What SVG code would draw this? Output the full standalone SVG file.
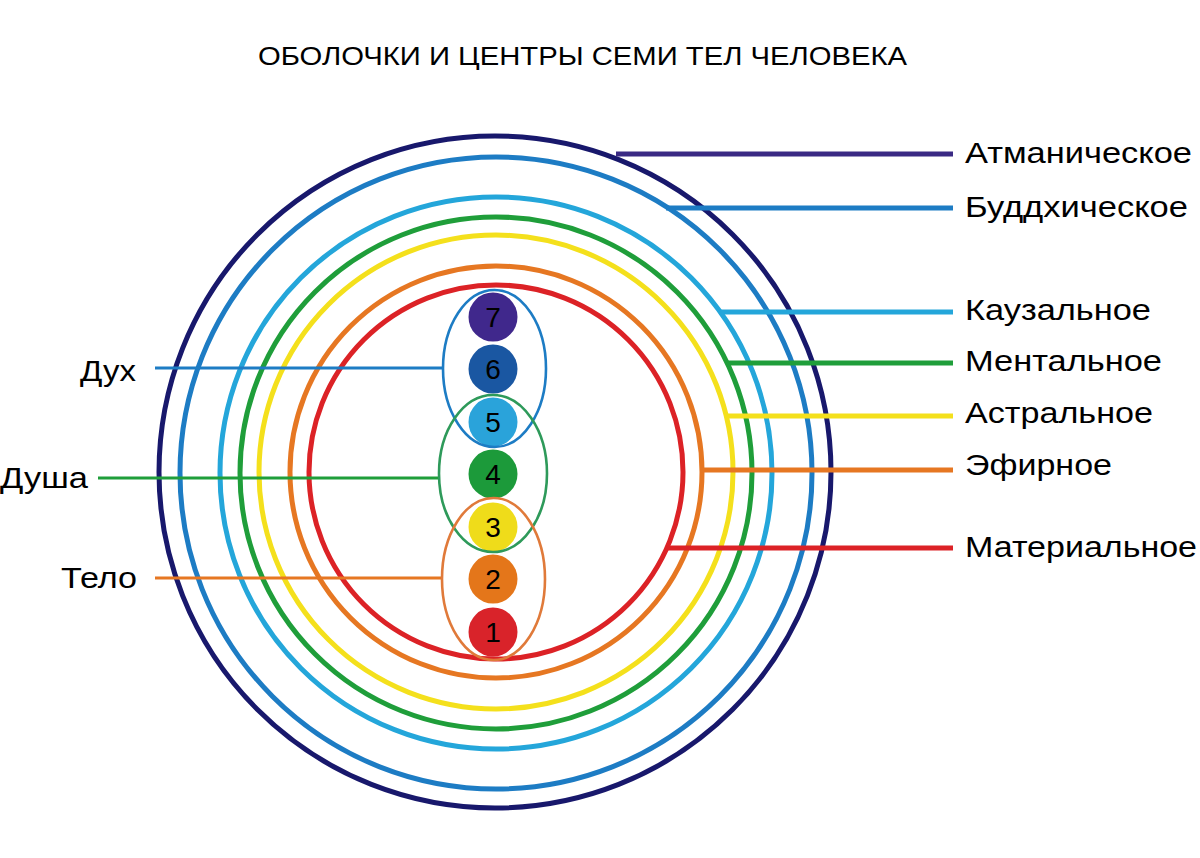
<svg xmlns="http://www.w3.org/2000/svg" width="1200" height="858" viewBox="0 0 1200 858">
  <style>
    .ring { fill: none; stroke-width: 5; }
    .lead { fill: none; stroke-width: 5; stroke-linecap: butt; }
    .sub { fill: none; stroke-width: 3; }
    .grp { fill: none; stroke-width: 2.6; }
    .lbl { font-family: "Liberation Sans", Arial, sans-serif; font-size: 30px; fill: #000; }
    .num { font-family: "Liberation Sans", Arial, sans-serif; font-size: 28px; fill: #000; text-anchor: middle; }
    .title { font-family: "Liberation Sans", Arial, sans-serif; font-size: 25px; fill: #000; }
  </style>
  <rect width="1200" height="858" fill="#ffffff"/>

  <text class="title" x="258" y="65" textLength="649" lengthAdjust="spacingAndGlyphs">ОБОЛОЧКИ И ЦЕНТРЫ СЕМИ ТЕЛ ЧЕЛОВЕКА</text>

  <g id="bodies">
    <circle id="ring-atmanic" class="ring" cx="495" cy="472" r="336" stroke="#18186c"/>
    <circle id="ring-buddhic" class="ring" cx="496" cy="473" r="316" stroke="#1d7cc4"/>
    <circle id="ring-causal" class="ring" cx="496" cy="473" r="276" stroke="#24a6da"/>
    <circle id="ring-mental" class="ring" cx="496" cy="473" r="256" stroke="#1f9e3a"/>
    <circle id="ring-astral" class="ring" cx="496" cy="472" r="237" stroke="#f4e01c"/>
    <circle id="ring-etheric" class="ring" cx="496" cy="472" r="206" stroke="#e67722"/>
    <circle id="ring-material" class="ring" cx="496" cy="472" r="187" stroke="#dc2226"/>
  </g>

  <g id="connectors">
    <line class="lead" x1="616" y1="154" x2="953" y2="154" stroke="#3a2a84"/>
    <line class="lead" x1="666" y1="208" x2="953" y2="208" stroke="#1d7cc4"/>
    <line class="lead" x1="719" y1="312" x2="953" y2="312" stroke="#24a6da"/>
    <line class="lead" x1="727" y1="363" x2="953" y2="363" stroke="#1f9e3a"/>
    <line class="lead" x1="726" y1="416" x2="953" y2="416" stroke="#f4e01c"/>
    <line class="lead" x1="701" y1="470" x2="953" y2="470" stroke="#e67722"/>
    <line class="lead" x1="666" y1="548" x2="953" y2="548" stroke="#dc2226"/>

    <line class="sub" x1="155" y1="368" x2="443" y2="368" stroke="#1d7cc4"/>
    <line class="sub" x1="98" y1="478" x2="440" y2="478" stroke="#1f9e3a"/>
    <line class="sub" x1="155" y1="578" x2="442" y2="578" stroke="#e67722"/>
  </g>

  <g id="chakra-7"><circle cx="493" cy="317" r="24.5" fill="#40288c"/><text class="num" x="493" y="327">7</text></g>
  <g id="chakra-6"><circle cx="493" cy="369" r="24.5" fill="#1a57a2"/><text class="num" x="493" y="379">6</text></g>
  <g id="chakra-5"><circle cx="493" cy="422" r="24.5" fill="#2aa3da"/><text class="num" x="493" y="432">5</text></g>
  <g id="chakra-4"><circle cx="493" cy="474" r="24.5" fill="#1c9a3a"/><text class="num" x="493" y="484">4</text></g>
  <g id="chakra-3"><circle cx="493" cy="527" r="24.5" fill="#efdc1a"/><text class="num" x="493" y="537">3</text></g>
  <g id="chakra-2"><circle cx="493" cy="579" r="24.5" fill="#e4761a"/><text class="num" x="493" y="589">2</text></g>
  <g id="chakra-1"><circle cx="493" cy="632" r="24.5" fill="#d9232a"/><text class="num" x="493" y="642">1</text></g>

  <g id="group-spirit"><ellipse class="grp" cx="494.5" cy="368.5" rx="51.5" ry="78.5" stroke="#1d7cc4"/></g>
  <g id="group-soul"><ellipse class="grp" cx="493" cy="473.5" rx="54" ry="78.5" stroke="#2e9a5a"/></g>
  <g id="group-body"><ellipse class="grp" cx="493.5" cy="579" rx="51.5" ry="81" stroke="#e07a3a"/></g>

  <g id="labels-right">
    <text class="lbl" x="965" y="163" textLength="227" lengthAdjust="spacingAndGlyphs">Атманическое</text>
    <text class="lbl" x="965" y="217" textLength="223" lengthAdjust="spacingAndGlyphs">Буддхическое</text>
    <text class="lbl" x="965" y="320" textLength="186" lengthAdjust="spacingAndGlyphs">Каузальное</text>
    <text class="lbl" x="965" y="371" textLength="197" lengthAdjust="spacingAndGlyphs">Ментальное</text>
    <text class="lbl" x="965" y="423" textLength="188" lengthAdjust="spacingAndGlyphs">Астральное</text>
    <text class="lbl" x="965" y="475" textLength="147" lengthAdjust="spacingAndGlyphs">Эфирное</text>
    <text class="lbl" x="965" y="557" textLength="232" lengthAdjust="spacingAndGlyphs">Материальное</text>
  </g>
  <g id="labels-left">
    <text class="lbl" x="80" y="381" textLength="56" lengthAdjust="spacingAndGlyphs">Дух</text>
    <text class="lbl" x="0" y="488" textLength="88" lengthAdjust="spacingAndGlyphs">Душа</text>
    <text class="lbl" x="61" y="588" textLength="76" lengthAdjust="spacingAndGlyphs">Тело</text>
  </g>
</svg>
